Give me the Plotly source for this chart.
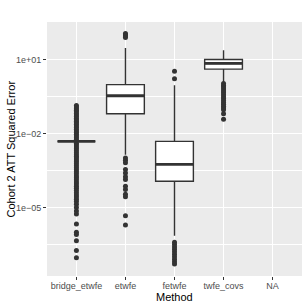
import plotly.graph_objects as go

categories = ["bridge_etwfe", "etwfe", "fetwfe", "twfe_covs", "NA"]

# box statistics, log10 of squared error (NA has no data)
q1_log = [-2.32, -1.20, -3.94, 0.61]
median_log = [-2.32, -0.47, -3.25, 0.84]
q3_log = [-2.32, -0.02, -2.32, 1.00]
lower_whisker_log = [-2.32, -2.86, -6.15, 0.03]
upper_whisker_log = [-2.32, 1.47, -0.04, 1.37]

# outliers, log10 of squared error
bridge_etwfe_out = [-0.87, -0.93, -1.00, -1.06, -1.12, -1.19, -1.25, -1.31, -1.38, -1.44,
                    -1.50, -1.57, -1.63, -1.70, -1.76, -1.83, -1.90, -1.96, -2.03, -2.10,
                    -2.17, -2.24, -2.40, -2.47, -2.55, -2.62, -2.70, -2.78, -2.86, -2.93,
                    -3.00, -3.08, -3.15, -3.23, -3.31, -3.39, -3.47, -3.55, -3.63, -3.72,
                    -3.80, -3.88, -3.97, -4.05, -4.14, -4.22, -4.31, -4.40, -4.50, -4.58,
                    -4.67, -4.76, -4.87, -5.00, -5.14, -5.27, -5.67, -6.01, -6.10, -6.35,
                    -6.75, -7.04]
etwfe_out = [2.05, 2.00, 1.95, 1.89, -2.99, -3.09, -3.19, -3.46, -3.60, -3.76, -3.87,
             -4.14, -4.27, -4.47, -4.57, -5.34, -5.71]
fetwfe_out = [0.52, 0.22, -6.41, -6.50, -6.60, -6.70, -6.80, -6.90, -7.00, -7.10,
              -7.20, -7.29]
twfe_covs_out = [0.03, -0.05, -0.12, -0.20, -0.28, -0.35, -0.43, -0.51, -0.58, -0.66,
                 -0.74, -0.82, -0.90, -0.97, -1.04, -1.20, -1.42]
outliers = [bridge_etwfe_out, etwfe_out, fetwfe_out, twfe_covs_out]

y_tick_vals = [1e-5, 1e-2, 1e1]
y_tick_text = ["1e\u221205", "1e\u221202", "1e+01"]
y_minor_vals = [10 ** -6.5, 10 ** -3.5, 10 ** -0.5, 10 ** 2.5]

x_title = "Method"
y_title = "Cohort 2 ATT Squared Error"

DARK = "#333333"
BOX_W = 0.77

fig = go.Figure()
for i in range(len(q1_log)):
    p = lambda v: 10 ** v
    fig.add_trace(go.Box(
        x=[i], q1=[p(q1_log[i])], median=[p(median_log[i])], q3=[p(q3_log[i])],
        lowerfence=[p(lower_whisker_log[i])], upperfence=[p(upper_whisker_log[i])],
        width=BOX_W, whiskerwidth=0, fillcolor="white",
        line=dict(color=DARK, width=1.4), boxpoints=False, hoverinfo="skip",
        showlegend=False))
    fig.add_trace(go.Scatter(
        x=[i - BOX_W / 2, i + BOX_W / 2], y=[p(median_log[i])] * 2, mode="lines",
        line=dict(color=DARK, width=2.8), showlegend=False, hoverinfo="skip"))
    fig.add_trace(go.Scatter(
        x=[i] * len(outliers[i]), y=[p(v) for v in outliers[i]], mode="markers",
        marker=dict(color=DARK, size=5, line=dict(width=0)), showlegend=False,
        hoverinfo="skip"))

W, H = 307, 307
ML, MR, MT, MB = 47, 5, 22, 31
pw, ph = W - ML - MR, H - MT - MB

fig.update_layout(
    width=W, height=H,
    margin=dict(l=ML, r=MR, t=MT, b=MB, autoexpand=False),
    paper_bgcolor="white", plot_bgcolor="#EBEBEB",
    font=dict(family="Liberation Sans, Arial, sans-serif", color="black"),
    annotations=[
        dict(text=x_title, xref="paper", yref="paper", x=0.5, y=-(296.5 - (H - MB)) / ph,
             xanchor="center", yanchor="middle", showarrow=False,
             font=dict(size=11, color="black")),
        dict(text=y_title, xref="paper", yref="paper", x=(10.5 - ML) / pw, y=0.5,
             xanchor="center", yanchor="middle", textangle=-90, showarrow=False,
             font=dict(size=11, color="black")),
    ],
)
fig.update_xaxes(
    range=[-0.6, 4.6], tickvals=list(range(len(categories))), ticktext=categories,
    showgrid=True, gridcolor="white", gridwidth=1.4, zeroline=False, automargin=False,
    ticks="outside", ticklen=3, tickwidth=1, tickcolor=DARK, ticklabelstandoff=-2,
    tickfont=dict(size=9, color="#4D4D4D"),
)
fig.update_yaxes(
    type="log", range=[-7.78, 2.52], tickvals=y_tick_vals, ticktext=y_tick_text,
    showgrid=True, gridcolor="white", gridwidth=1.4, zeroline=False, automargin=False,
    ticks="outside", ticklen=3, tickwidth=1, tickcolor=DARK,
    tickfont=dict(size=9, color="#4D4D4D"),
    minor=dict(tickvals=y_minor_vals, showgrid=True, gridcolor="white", gridwidth=0.7, ticks=""),
)

fig.write_html("out.html", config={"displayModeBar": False},
               post_script="document.body.style.margin='0';document.body.style.overflow='hidden';")
